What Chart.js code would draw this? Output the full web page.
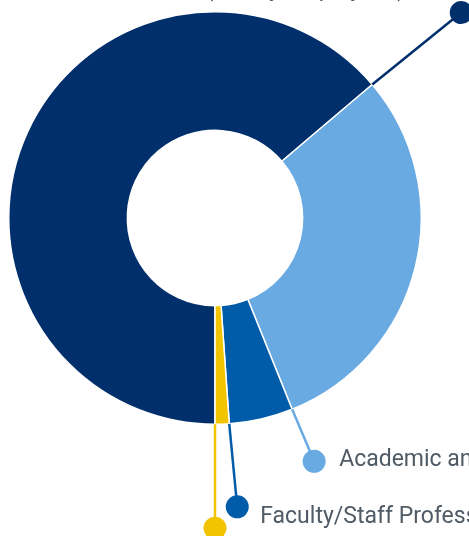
<!DOCTYPE html>
<html>
<head>
<meta charset="utf-8">
<script src="https://cdn.jsdelivr.net/npm/chart.js@4.4.1/dist/chart.umd.min.js"></script>
<style>
  html, body { margin: 0; padding: 0; background: #fff; }
  #wrap { width: 469px; height: 536px; position: relative; }
</style>
</head>
<body>
<div id="wrap"><canvas id="myChart"></canvas></div>
<script>
// categories + shares (%)
const labels = ['Classified Staff (Hourly Employees)', 'Academic and Research', 'Faculty/Staff Professional', 'Executive'];
const shares = [63.8, 30.1, 5.0, 1.1];
const colors = ['#002f6c', '#69aae2', '#005ba8', '#f2c400'];

// where each callout dot sits relative to the segment's end point, and its text offset
const dotOffset = [[89, -72], [22, 52], [8, 83], [0, 104]];
const textOffset = [[-56, -17], [25, 5], [23, 16], [23, 40]];
const textAlign = ['right', 'left', 'left', 'left'];

const callouts = {
  id: 'callouts',
  afterDatasetsDraw(chart) {
    const c = chart.ctx;
    const arcs = chart.getDatasetMeta(0).data;
    arcs.forEach((arc, i) => {
      const a = arc.endAngle;
      const x0 = arc.x + arc.outerRadius * Math.cos(a);
      const y0 = arc.y + arc.outerRadius * Math.sin(a);
      const x1 = x0 + dotOffset[i][0];
      const y1 = y0 + dotOffset[i][1];
      c.save();
      c.strokeStyle = colors[i];
      c.lineWidth = 2.5;
      c.beginPath();
      c.moveTo(x0, y0);
      c.lineTo(x1, y1);
      c.stroke();
      c.fillStyle = colors[i];
      c.beginPath();
      c.arc(x1, y1, 11.5, 0, Math.PI * 2);
      c.fill();
      c.fillStyle = '#505b65';
      c.font = '23px Roboto';
      c.textAlign = textAlign[i];
      c.textBaseline = 'alphabetic';
      c.fillText(labels[i], x1 + textOffset[i][0], y1 + textOffset[i][1]);
      c.restore();
    });
  }
};

new Chart(document.getElementById('myChart'), {
  type: 'doughnut',
  data: {
    labels: labels,
    datasets: [{
      data: shares,
      backgroundColor: colors,
      borderColor: '#ffffff',
      borderWidth: 1.5
    }]
  },
  options: {
    responsive: true,
    maintainAspectRatio: false,
    animation: false,
    rotation: 180,
    cutout: '42.5%',
    layout: { padding: { left: 8, right: 47, top: 11, bottom: 111 } },
    plugins: {
      legend: { display: false },
      tooltip: { enabled: false }
    }
  },
  plugins: [callouts]
});
</script>
</body>
</html>
